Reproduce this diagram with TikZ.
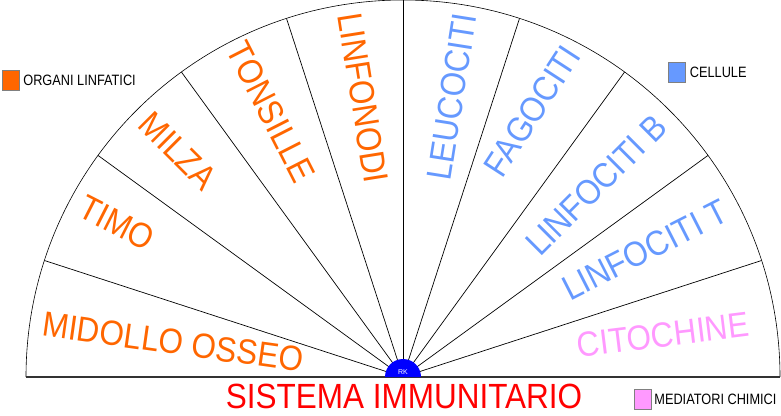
\documentclass[tikz,border=0pt]{standalone}
\usepackage{fontspec}
\setmainfont{Liberation Sans}
\usetikzlibrary{positioning}

\definecolor{organo}{HTML}{FF6600}
\definecolor{cellula}{HTML}{6699FF}
\definecolor{mediatore}{HTML}{FF99FF}

\begin{document}
\begin{tikzpicture}[
		x=1pt, y=1pt,
		% Define Node Styles
		sector/.style={inner sep=0pt, font=\fontsize{35}{35}\selectfont, xscale=0.9},
		organ/.style={sector, text=organo},
		cell/.style={sector, text=cellula},
		chem/.style={sector, text=mediatore},
		legbox/.style={draw=gray, minimum width=17pt, minimum height=20pt, inner sep=0pt},
		legtext/.style={inner sep=0pt, font=\fontsize{15}{15}\selectfont, xscale=0.85, anchor=west},
		% Define Line Styles
		spoke/.style={black, line width=0.7pt},
		rim/.style={black, line width=0.6pt}
		]
		\useasboundingbox (0,0) rectangle (781,415);
		\coordinate (C) at (403,38);
		
		% Fan
		\draw[rim] (C) ++(180:377) arc (180:0:377);
		\foreach \a in {18,36,...,162}
		\draw[spoke] (C) -- +(\a:377);
		\draw[line width=1.2pt, black!80] (C) ++(-377,0) -- ++(754,0);
		\fill[blue] (C) ++(18,0) arc (0:180:18) -- cycle;
		\node[text=white, font=\fontsize{7}{7}\selectfont, inner sep=0pt] (RK) at (403,43) {RK};
		
		% Organi linfatici
		\node[rotate=-8, organ] (MO) at (173,73) {MIDOLLO OSSEO};
		\node[rotate=-27, organ] (TI) at (117,192) {TIMO};
		\node[rotate=-45, organ] (MI) at (178,264) {MILZA};
		\node[rotate=-63, organ] (TO) at (271,303) {TONSILLE};
		\node[rotate=-81, organ] (LN) at (363,317) {LINFONODI};
		
		% Cellule
		\node[rotate=81, cell] (LE) at (452,318) {LEUCOCITI};
		\node[rotate=57, cell] (FA) at (532,304) {FAGOCITI};
		\node[rotate=45, cell] (LB) at (596,230) {LINFOCITI B};
		\node[rotate=27, cell] (LT) at (645,165) {LINFOCITI T};
		
		% Mediatori chimici
		\node[rotate=7, chem] (CI) at (663,80) {CITOCHINE};
		
		% Title
		\node[sector, text=red] (SI) at (404,19) {SISTEMA IMMUNITARIO};
		
		% Legend
		\node[legbox, fill=organo] (K1) at (10.5,335) {};
		\node[legtext, right=4pt of K1.east] (T1) {ORGANI LINFATICI};
		\node[legbox, fill=cellula] (K2) at (677,343) {};
		\node[legtext, right=4pt of K2.east] (T2) {CELLULE};
		\node[legbox, fill=mediatore] (K3) at (642.5,16) {};
		\node[legtext, right=3pt of K3.east] (T3) {MEDIATORI CHIMICI};
		
	\end{tikzpicture}
\end{document}
